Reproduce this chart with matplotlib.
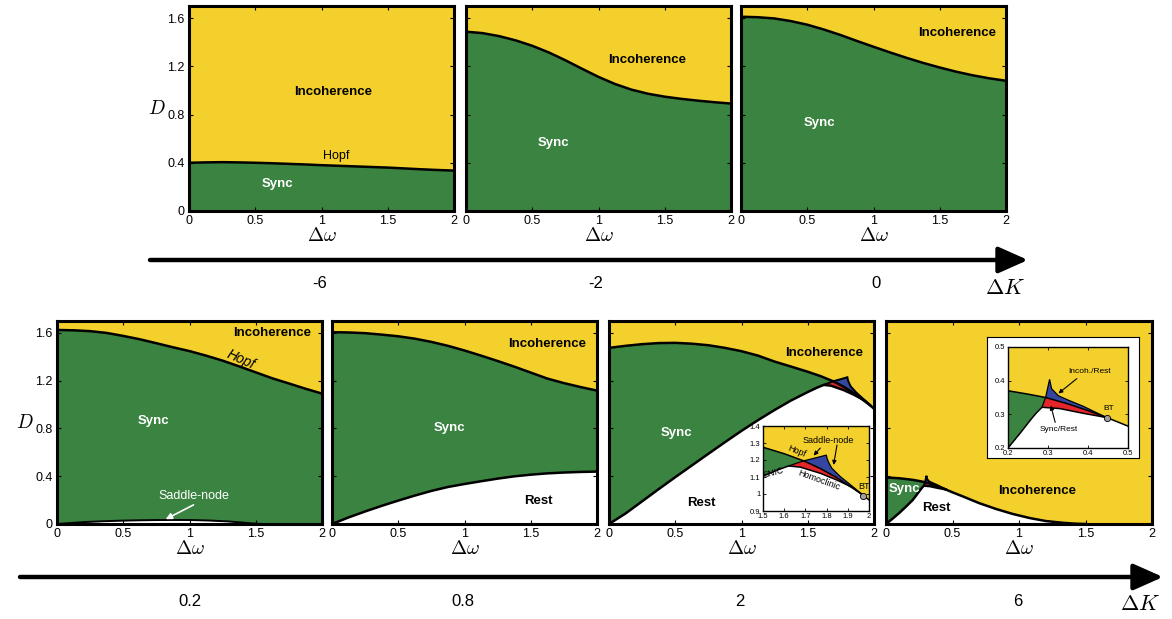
import numpy as np
import matplotlib
matplotlib.use('Agg')
import matplotlib.pyplot as plt

plt.rcParams['font.family'] = ['Liberation Sans', 'DejaVu Sans']
plt.rcParams['mathtext.fontset'] = 'cm'

YELLOW = '#F4D02C'
GREEN = '#3A8341'
RED = '#E4262B'
BLUE = '#3546A0'
GREY = '#A0A0A0'

# coupling values along the Delta K arrows
top_dk = ['-6', '-2', '0']
bottom_dk = ['0.2', '0.8', '2', '6']

w_grid = [0, 0.125, 0.25, 0.375, 0.5, 0.625, 0.75, 0.875, 1.0,
          1.125, 1.25, 1.375, 1.5, 1.625, 1.75, 1.875, 2.0]

# top row: Hopf boundary (Sync below, Incoherence above)
hopf_m6 = [0.40, 0.403, 0.405, 0.403, 0.40, 0.396, 0.391, 0.386, 0.38,
           0.375, 0.37, 0.365, 0.36, 0.353, 0.346, 0.34, 0.335]
hopf_m2 = [1.487, 1.475, 1.45, 1.415, 1.37, 1.315, 1.25, 1.18, 1.112,
           1.053, 1.006, 0.972, 0.948, 0.93, 0.915, 0.902, 0.891]
hopf_0 = [1.611, 1.607, 1.597, 1.575, 1.545, 1.505, 1.46, 1.41, 1.362,
          1.315, 1.27, 1.228, 1.19, 1.155, 1.125, 1.10, 1.08]

# dK = 0.2
hopf_02 = [1.625, 1.622, 1.615, 1.60, 1.575, 1.547, 1.514, 1.48, 1.448,
           1.41, 1.368, 1.32, 1.27, 1.22, 1.177, 1.133, 1.092]
sn_02_w = [0, 0.1, 0.22, 0.35, 0.485, 0.62, 0.75, 0.885, 1.02, 1.15, 1.285, 1.38, 1.47, 1.55]
sn_02_D = [0, 0.008, 0.017, 0.023, 0.028, 0.031, 0.033, 0.034, 0.033, 0.029, 0.022, 0.014, 0.005, 0.0]

# dK = 0.8
hopf_08 = [1.606, 1.604, 1.598, 1.586, 1.572, 1.552, 1.525, 1.492, 1.453,
           1.41, 1.365, 1.318, 1.268, 1.218, 1.18, 1.147, 1.117]
rest_08 = [0, 0.055, 0.105, 0.152, 0.196, 0.238, 0.277, 0.31, 0.335,
           0.358, 0.38, 0.399, 0.413, 0.424, 0.431, 0.436, 0.439]

# dK = 2
hopf_2_w = [0, 0.125, 0.25, 0.375, 0.5, 0.625, 0.75, 0.875, 1.0, 1.125, 1.25, 1.375,
            1.5, 1.6, 1.692, 1.77, 1.85, 1.97, 2.0]
hopf_2_D = [1.475, 1.492, 1.506, 1.515, 1.517, 1.51, 1.497, 1.475, 1.447, 1.41, 1.36, 1.318,
            1.275, 1.237, 1.195, 1.15, 1.095, 0.995, 0.965]
rest_2_w = [0, 0.125, 0.25, 0.375, 0.5, 0.625, 0.75, 0.875, 1.0, 1.125, 1.25, 1.375,
            1.5, 1.566, 1.621, 1.676, 1.77, 1.849, 1.928, 1.97]
rest_2_D = [0, 0.088, 0.19, 0.292, 0.392, 0.49, 0.588, 0.685, 0.78, 0.87, 0.955, 1.035,
            1.105, 1.14, 1.165, 1.158, 1.122, 1.082, 1.035, 0.995]
sn_2_w = [1.621, 1.692, 1.75, 1.799, 1.802, 1.81, 1.825, 1.865, 1.912, 1.97]
sn_2_D = [1.165, 1.195, 1.213, 1.229, 1.21, 1.185, 1.151, 1.102, 1.055, 0.995]
bt_2 = (1.972, 0.99)

# dK = 6
hopf_6_w = [0, 0.1, 0.2, 0.25, 0.294, 0.35, 0.40, 0.448, 0.5, 0.58, 0.7, 0.83, 0.95,
            1.08, 1.2, 1.33, 1.42, 1.5]
hopf_6_D = [0.39, 0.383, 0.37, 0.36, 0.35, 0.331, 0.311, 0.29, 0.265, 0.23, 0.175, 0.125,
            0.085, 0.05, 0.025, 0.01, 0.003, 0.0]
rest_6_w = [0, 0.05, 0.1, 0.15, 0.2, 0.231, 0.256, 0.27, 0.285, 0.33, 0.388, 0.421, 0.448]
rest_6_D = [0, 0.045, 0.093, 0.145, 0.2, 0.245, 0.283, 0.303, 0.321, 0.317, 0.303, 0.296, 0.29]
sn_6_w = [0.285, 0.294, 0.304, 0.309, 0.326, 0.355, 0.388, 0.421, 0.448]
sn_6_D = [0.321, 0.35, 0.404, 0.376, 0.355, 0.34, 0.324, 0.305, 0.29]
bt_6 = (0.448, 0.289)

W, H = 1172, 619
LW = 1.8
fig = plt.figure(figsize=(W / 100, H / 100), dpi=100)


def rect(x0, y0, x1, y1):
    return [x0 / W, 1 - y1 / H, (x1 - x0) / W, (y1 - y0) / H]


# overlay in pixel coords for the Delta K arrows
ov = fig.add_axes([0, 0, 1, 1])
ov.set_xlim(0, W)
ov.set_ylim(H, 0)
ov.axis('off')
arrow = dict(arrowstyle='-|>,head_length=0.9,head_width=0.4', lw=3.2, color='k',
             mutation_scale=20, shrinkA=0, shrinkB=0)
ov.annotate('', xy=(1028, 260), xytext=(150, 260), arrowprops=arrow)
ov.annotate('', xy=(1163, 577), xytext=(20, 577), arrowprops=arrow)
for lab, x in zip(top_dk, [320, 596, 876]):
    ov.text(x, 283, lab, ha='center', va='center', fontsize=12)
for lab, x in zip(bottom_dk, [190, 463, 740, 1018]):
    ov.text(x, 602, lab, ha='center', va='center', fontsize=12)
ov.text(1005, 289, r'$\Delta K$', ha='center', va='center', fontsize=16)
ov.text(1140, 604, r'$\Delta K$', ha='center', va='center', fontsize=16)


def panel(box, ylabels):
    ax = fig.add_axes(rect(*box))
    ax.set_facecolor(YELLOW)
    ax.set_xlim(0, 2)
    ax.set_ylim(0, 1.7)
    ax.set_xticks([0, 0.5, 1, 1.5, 2])
    ax.set_xticklabels(['0', '0.5', '1', '1.5', '2'])
    ax.set_yticks([0, 0.4, 0.8, 1.2, 1.6])
    if ylabels:
        ax.set_yticklabels(['0', '0.4', '0.8', '1.2', '1.6'])
        ax.set_ylabel('$D$', rotation=0, fontsize=14, labelpad=8, va='center')
    else:
        ax.set_yticklabels([])
    ax.tick_params(direction='in', length=3, width=0.8, top=True, right=True,
                   labelsize=9, pad=3)
    for s in ax.spines.values():
        s.set_linewidth(2.2)
        s.set_zorder(5)
    ax.set_xlabel(r'$\Delta\omega$', fontsize=14, labelpad=0)
    return ax


def seg(w, D, a, b):
    w = np.asarray(w, dtype=float)
    D = np.asarray(D, dtype=float)
    m = (w >= a - 1e-9) & (w <= b + 1e-9)
    return w[m], D[m]


def cusp_regions(ax, hw, hD, rw, rD, sw, sD, lw):
    x_s, x_c, x_bt = sw[0], sw[1], sw[-1]
    # rest (white): SNIC + homoclinic, then the line beyond BT
    a_w, a_D = seg(rw, rD, 0, x_bt)
    b_w, b_D = seg(hw, hD, x_bt, 10)
    ax.fill(np.r_[a_w, b_w, b_w[-1], 0], np.r_[a_D, b_D, 0, 0], color='white', lw=0)
    # sync (green)
    g1 = seg(hw, hD, 0, x_c)
    g2 = seg(sw, sD, x_s, x_c)
    g3 = seg(rw, rD, 0, x_s)
    ax.fill(np.r_[g1[0], g2[0][::-1], g3[0][::-1]], np.r_[g1[1], g2[1][::-1], g3[1][::-1]],
            color=GREEN, lw=0)
    # sync/rest (red)
    r1 = seg(sw, sD, x_s, x_c)
    r2 = seg(hw, hD, x_c, x_bt)
    r3 = seg(rw, rD, x_s, x_bt)
    ax.fill(np.r_[r1[0], r2[0], r3[0][::-1]], np.r_[r1[1], r2[1], r3[1][::-1]],
            color=RED, lw=0)
    # incoherence/rest (blue)
    b1 = seg(sw, sD, x_c, x_bt)
    b2 = seg(hw, hD, x_c, x_bt)
    ax.fill(np.r_[b1[0], b2[0][::-1]], np.r_[b1[1], b2[1][::-1]], color=BLUE, lw=0)
    ax.plot(hw, hD, color='k', lw=lw, solid_joinstyle='round')
    ax.plot(a_w, a_D, color='k', lw=lw, solid_joinstyle='round')
    ax.plot(sw, sD, color='k', lw=lw * 0.8, solid_joinstyle='miter')


def bold(ax, x, y, s, color='k', size=9.5):
    ax.text(x, y, s, ha='center', va='center', fontsize=size, fontweight='bold', color=color)


# ---- top row ----
ax = panel((189, 6, 454, 211), True)
ax.fill_between(w_grid, 0, hopf_m6, color=GREEN, lw=0)
ax.plot(w_grid, hopf_m6, color='k', lw=LW)
bold(ax, 1.09, 0.99, 'Incoherence')
bold(ax, 0.67, 0.22, 'Sync', 'white')
ax.text(1.11, 0.46, 'Hopf', ha='center', va='center', fontsize=9)

ax = panel((466, 6, 731, 211), False)
ax.fill_between(w_grid, 0, hopf_m2, color=GREEN, lw=0)
ax.plot(w_grid, hopf_m2, color='k', lw=LW)
bold(ax, 1.37, 1.25, 'Incoherence')
bold(ax, 0.66, 0.56, 'Sync', 'white')

ax = panel((741, 6, 1006, 211), False)
ax.fill_between(w_grid, 0, hopf_0, color=GREEN, lw=0)
ax.plot(w_grid, hopf_0, color='k', lw=LW)
bold(ax, 1.63, 1.48, 'Incoherence')
bold(ax, 0.59, 0.73, 'Sync', 'white')

# ---- bottom row ----
ax = panel((57, 321, 322, 524), True)
ax.fill_between(w_grid, 0, hopf_02, color=GREEN, lw=0)
ax.plot(w_grid, hopf_02, color='k', lw=LW)
ax.fill_between(sn_02_w, 0, sn_02_D, color='white', lw=0)
ax.plot(sn_02_w, sn_02_D, color='k', lw=1.4)
bold(ax, 1.62, 1.60, 'Incoherence')
bold(ax, 0.73, 0.86, 'Sync', 'white')
ax.text(1.39, 1.375, 'Hopf', ha='center', va='center', fontsize=10, style='italic', rotation=-24)
ax.text(1.03, 0.235, 'Saddle-node', ha='center', va='center', fontsize=9, color='white')
ax.annotate('', xy=(0.82, 0.04), xytext=(1.03, 0.16),
            arrowprops=dict(arrowstyle='-|>', color='white', lw=1.2, mutation_scale=9,
                            shrinkA=0, shrinkB=0))

ax = panel((332, 321, 597, 524), False)
ax.fill_between(w_grid, rest_08, hopf_08, color=GREEN, lw=0)
ax.fill_between(w_grid, 0, rest_08, color='white', lw=0)
ax.plot(w_grid, hopf_08, color='k', lw=LW)
ax.plot(w_grid, rest_08, color='k', lw=LW)
bold(ax, 1.62, 1.51, 'Incoherence')
bold(ax, 0.89, 0.80, 'Sync', 'white')
bold(ax, 1.56, 0.19, 'Rest')

ax = panel((609, 321, 874, 524), False)
cusp_regions(ax, hopf_2_w, hopf_2_D, rest_2_w, rest_2_D, sn_2_w, sn_2_D, LW)
bold(ax, 1.62, 1.43, 'Incoherence')
bold(ax, 0.51, 0.76, 'Sync', 'white')
bold(ax, 0.70, 0.18, 'Rest')

ax = panel((886, 321, 1152, 524), False)
cusp_regions(ax, hopf_6_w, hopf_6_D, rest_6_w, rest_6_D, sn_6_w, sn_6_D, LW)
bold(ax, 1.14, 0.28, 'Incoherence')
bold(ax, 0.14, 0.29, 'Sync', 'white')
bold(ax, 0.38, 0.13, 'Rest')

# ---- inset for dK = 2 ----
ins = fig.add_axes(rect(763, 426, 869, 511))
ins.set_facecolor(YELLOW)
cusp_regions(ins, hopf_2_w, hopf_2_D, rest_2_w, rest_2_D, sn_2_w, sn_2_D, 1.1)
ins.plot(*bt_2, 'o', ms=4.5, mfc=GREY, mec='k', mew=0.6, zorder=6, clip_on=False)
ins.set_xlim(1.5, 2)
ins.set_ylim(0.9, 1.4)
ins.set_xticks([1.5, 1.6, 1.7, 1.8, 1.9, 2.0])
ins.set_xticklabels(['1.5', '1.6', '1.7', '1.8', '1.9', '2'])
ins.set_yticks([0.9, 1.0, 1.1, 1.2, 1.3, 1.4])
ins.set_yticklabels(['0.9', '1', '1.1', '1.2', '1.3', '1.4'])
ins.tick_params(direction='in', length=2, width=0.6, top=True, right=True, labelsize=5.5, pad=1.5)
ins.tick_params(axis='y', pad=2)
for s in ins.spines.values():
    s.set_linewidth(1.0)
small = dict(arrowstyle='-|>', color='k', lw=0.8, mutation_scale=6, shrinkA=0, shrinkB=0)
ins.text(1.81, 1.314, 'Saddle-node', ha='center', va='center', fontsize=6.5)
ins.annotate('', xy=(1.739, 1.226), xytext=(1.77, 1.27), arrowprops=small)
ins.annotate('', xy=(1.833, 1.171), xytext=(1.849, 1.288), arrowprops=small)
ins.text(1.66, 1.249, 'Hopf', ha='center', va='center', fontsize=6.5, rotation=-22)
ins.text(1.55, 1.122, 'SNIC', ha='center', va='center', fontsize=6.5, rotation=15)
ins.text(1.763, 1.083, 'Homoclinic', ha='center', va='center', fontsize=6.5, rotation=-20)
ins.text(1.975, 1.047, 'BT', ha='center', va='center', fontsize=6.5)

# ---- inset for dK = 6 ----
box = fig.add_axes(rect(987, 337, 1139, 458))
box.set_facecolor('white')
box.set_xticks([])
box.set_yticks([])
for s in box.spines.values():
    s.set_linewidth(0.8)

ins = fig.add_axes(rect(1008, 347, 1128, 448))
ins.set_facecolor(YELLOW)
cusp_regions(ins, hopf_6_w, hopf_6_D, rest_6_w, rest_6_D, sn_6_w, sn_6_D, 1.1)
ins.plot(*bt_6, 'o', ms=4.5, mfc=GREY, mec='k', mew=0.6, zorder=6)
ins.set_xlim(0.2, 0.5)
ins.set_ylim(0.2, 0.5)
ins.set_xticks([0.2, 0.3, 0.4, 0.5])
ins.set_yticks([0.2, 0.3, 0.4, 0.5])
ins.set_xticklabels(['0.2', '0.3', '0.4', '0.5'])
ins.set_yticklabels(['0.2', '0.3', '0.4', '0.5'])
ins.tick_params(direction='in', length=2, width=0.6, top=True, right=True, labelsize=5.5, pad=1.5)
ins.tick_params(axis='y', pad=2)
for s in ins.spines.values():
    s.set_linewidth(1.0)
ins.text(0.403, 0.427, 'Incoh./Rest', ha='center', va='center', fontsize=6)
ins.annotate('', xy=(0.326, 0.362), xytext=(0.372, 0.406), arrowprops=small)
ins.text(0.326, 0.255, 'Sync/Rest', ha='center', va='center', fontsize=6)
ins.annotate('', xy=(0.307, 0.326), xytext=(0.318, 0.276), arrowprops=small)
ins.text(0.451, 0.316, 'BT', ha='center', va='center', fontsize=6)

fig.savefig('out.png', dpi=100)
